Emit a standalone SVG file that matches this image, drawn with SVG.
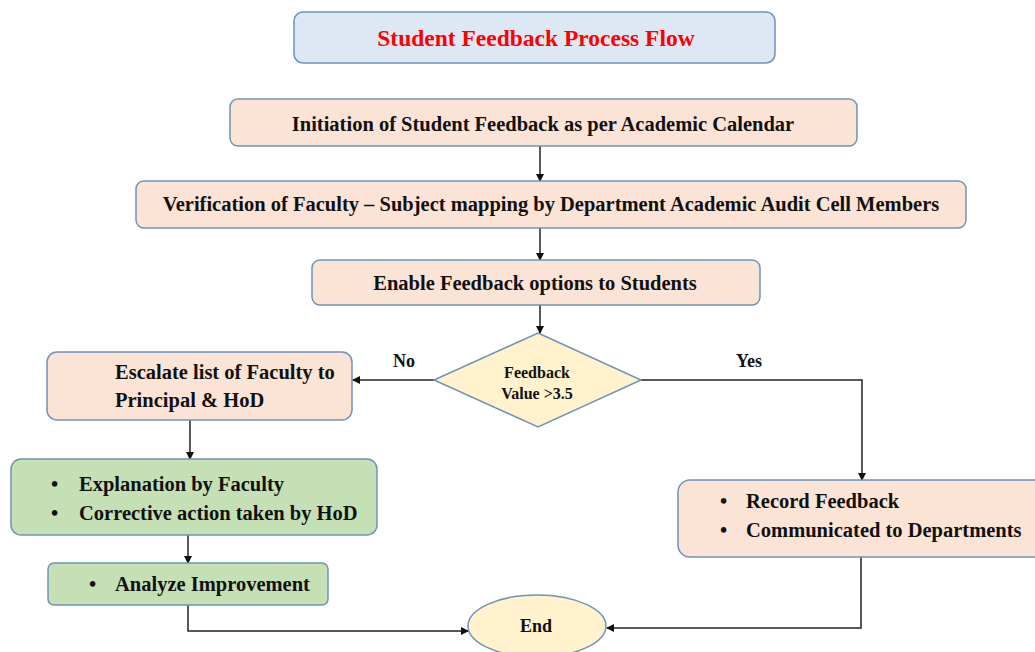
<svg xmlns="http://www.w3.org/2000/svg" width="1035" height="652" viewBox="0 0 1035 652">
<defs>
<marker id="ah" markerWidth="8" markerHeight="8" refX="7" refY="4" orient="auto" markerUnits="userSpaceOnUse">
<path d="M0,0 L8,4 L0,8 Z" fill="#111"/>
</marker>
<style>
.pk{fill:#fbe4d6;stroke:#6f93b8;stroke-width:1.5}
.gr{fill:#c5e0b4;stroke:#6f93b8;stroke-width:1.5}
.yl{fill:#fff2cc;stroke:#6f93b8;stroke-width:1.5}
.t{font-family:"Liberation Serif","Times New Roman",serif;font-weight:bold;font-size:20.5px;fill:#111}
.c{text-anchor:middle}
.ln{fill:none;stroke:#222;stroke-width:1.5}
</style>
</defs>
<rect width="1035" height="652" fill="#fff"/>
<g id="title">
<rect x="294" y="12" width="481" height="51" rx="9" fill="#dde8f4" stroke="#6f93b8" stroke-width="1.5"/>
<text x="536" y="46" class="t c" style="fill:#ff0000;font-size:23.5px">Student Feedback Process Flow</text>
</g>
<g id="connectors">
<line x1="540" y1="146" x2="540" y2="181" class="ln" marker-end="url(#ah)"/>
<line x1="540" y1="228" x2="540" y2="260" class="ln" marker-end="url(#ah)"/>
<line x1="540" y1="305" x2="540" y2="333" class="ln" marker-end="url(#ah)"/>
<line x1="434" y1="380" x2="353" y2="380" class="ln" marker-end="url(#ah)"/>
<polyline points="641,380 862,380 862,480" class="ln" marker-end="url(#ah)"/>
<line x1="190" y1="420" x2="190" y2="459" class="ln" marker-end="url(#ah)"/>
<line x1="188" y1="535" x2="188" y2="563" class="ln" marker-end="url(#ah)"/>
<polyline points="188,605 188,631 468,631" class="ln" marker-end="url(#ah)"/>
<polyline points="861,557 861,628 607,628" class="ln" marker-end="url(#ah)"/>
<text x="404" y="367" class="t c" style="font-size:18px">No</text>
<text x="749" y="367" class="t c" style="font-size:18px">Yes</text>
</g>
<g id="initiation">
<rect x="230" y="99" width="627" height="47" rx="8" class="pk"/>
<text x="543" y="131" class="t c">Initiation of Student Feedback as per Academic Calendar</text>
</g>
<g id="verification">
<rect x="136" y="181" width="830" height="47" rx="8" class="pk"/>
<text x="551" y="211" class="t c">Verification of Faculty – Subject mapping by Department Academic Audit Cell Members</text>
</g>
<g id="enable">
<rect x="312" y="260" width="448" height="45" rx="8" class="pk"/>
<text x="535" y="290" class="t c">Enable Feedback options to Students</text>
</g>
<g id="decision">
<polygon points="538,333 641,380 538,427 434,380" class="yl"/>
<text x="537" y="378" class="t c" style="font-size:16px">Feedback</text>
<text x="537" y="399" class="t c" style="font-size:16px">Value &gt;3.5</text>
</g>
<g id="escalate">
<rect x="47" y="352" width="305" height="68" rx="10" class="pk"/>
<text x="115" y="379" class="t">Escalate list of Faculty to</text>
<text x="115" y="407" class="t">Principal &amp; HoD</text>
</g>
<g id="explanation">
<rect x="11" y="459" width="366" height="76" rx="10" class="gr"/>
<text x="51" y="491" class="t">•</text>
<text x="79" y="491" class="t">Explanation by Faculty</text>
<text x="51" y="520" class="t">•</text>
<text x="79" y="520" class="t">Corrective action taken by HoD</text>
</g>
<g id="analyze">
<rect x="48" y="563" width="280" height="42" rx="6" class="gr"/>
<text x="89" y="591" class="t">•</text>
<text x="115" y="591" class="t">Analyze Improvement</text>
</g>
<g id="record">
<rect x="678" y="480" width="370" height="77" rx="12" class="pk"/>
<text x="720" y="508" class="t">•</text>
<text x="746" y="508" class="t">Record Feedback</text>
<text x="720" y="537" class="t">•</text>
<text x="746" y="537" class="t">Communicated to Departments</text>
</g>
<g id="end">
<ellipse cx="537" cy="626" rx="69" ry="31" class="yl"/>
<text x="536" y="632" class="t c" style="font-size:18px">End</text>
</g>
</svg>
